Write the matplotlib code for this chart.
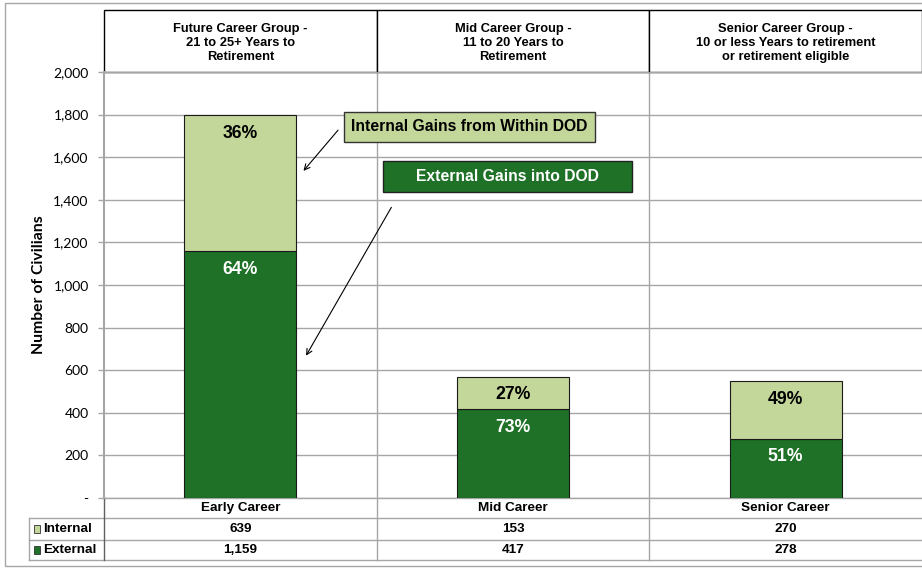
import matplotlib
matplotlib.use('Agg')
import matplotlib.pyplot as plt
import matplotlib.patches as patches
from matplotlib.transforms import blended_transform_factory
from matplotlib.ticker import FuncFormatter

plt.rcParams['font.family'] = ['Liberation Sans', 'DejaVu Sans']

# datos
categorias = ['Early Career', 'Mid Career', 'Senior Career']
encabezados = ['Future Career Group -\n21 to 25+ Years to\nRetirement',
               'Mid Career Group -\n11 to 20 Years to\nRetirement',
               'Senior Career Group -\n10 or less Years to retirement\nor retirement eligible']
interno = [639, 153, 270]
externo = [1159, 417, 278]
series = ['Internal', 'External']

verde_claro = '#C4D79B'
verde_osc = '#1E7126'
gris = '#A6A6A6'

fig = plt.figure(figsize=(9.22, 5.72), dpi=100)
ax = fig.add_axes([104 / 922, 1 - 498 / 572, 818 / 922, 426 / 572])

x = list(range(len(categorias)))
ancho = 0.41
ax.bar(x, externo, ancho, color=verde_osc, edgecolor='#1a1a1a', linewidth=0.8, zorder=3)
ax.bar(x, interno, ancho, bottom=externo, color=verde_claro, edgecolor='#1a1a1a',
       linewidth=0.8, zorder=3)

# porcentajes
for i in x:
    tot = interno[i] + externo[i]
    p_int = round(100 * interno[i] / tot)
    ax.annotate('%d%%' % p_int, (i, tot), xytext=(0, -13), textcoords='offset points',
                ha='center', va='center', fontsize=12.7, fontweight='bold', color='black', zorder=4)
    ax.annotate('%d%%' % (100 - p_int), (i, externo[i]), xytext=(0, -13),
                textcoords='offset points', ha='center', va='center', fontsize=12.7,
                fontweight='bold', color='white', zorder=4)

ax.set_xlim(-0.5, 2.5)
ax.set_ylim(0, 2000)
ax.set_yticks(range(0, 2001, 200))
ax.yaxis.set_major_formatter(FuncFormatter(lambda v, p: '-' if v == 0 else '{:,.0f}'.format(v)))
ax.tick_params(axis='y', length=4, pad=7, labelsize=10, color=gris, width=1)
for lbl in ax.get_yticklabels():
    lbl.set_family(['Lato', 'DejaVu Sans'])
ax.set_xticks([])
ax.grid(axis='y', color=gris, linewidth=1, zorder=0)
for s in ['top', 'right', 'bottom']:
    ax.spines[s].set_visible(False)
ax.spines['left'].set_color(gris)
ax.spines['left'].set_linewidth(1.5)
ax.set_ylabel('Number of Civilians', fontsize=11.3, fontweight='bold', family=['Lato', 'DejaVu Sans'])
ax.yaxis.set_label_coords(-0.071, 0.5)

tr = blended_transform_factory(ax.transData, ax.transAxes)

# lineas verticales entre grupos
for xv in [0.5, 1.5]:
    ax.plot([xv, xv], [-0.1455, 1.0], color=gris, lw=1, transform=tr, clip_on=False, zorder=1)

# encabezados
for i, t in enumerate(encabezados):
    ax.add_patch(patches.Rectangle((i - 0.5, 1.0), 1, 0.1455, transform=tr, clip_on=False,
                                   facecolor='white', edgecolor='black', lw=1))
    ax.text(i, 1.068, t, transform=tr, ha='center', va='center',
            fontsize=9.3, fontweight='bold', linespacing=1.2)

# tabla de datos
filas = [0.0, -0.047, -0.0986, -0.1455]
ax.plot([-0.5, 2.5], [0, 0], color=gris, lw=1, transform=tr, clip_on=False)
for yv in filas[1:]:
    ax.plot([-0.775, 2.5], [yv, yv], color=gris, lw=1, transform=tr, clip_on=False)
ax.plot([-0.775, -0.775], [-0.047, -0.1455], color=gris, lw=1, transform=tr, clip_on=False)
ax.plot([-0.5, -0.5], [0, -0.1455], color='#606060', lw=1, transform=tr, clip_on=False)

for i, c in enumerate(categorias):
    ax.text(i, (filas[0] + filas[1]) / 2, c, transform=tr, ha='center', va='center',
            fontsize=9.7, fontweight='bold')
    ax.text(i, (filas[1] + filas[2]) / 2, '{:,}'.format(interno[i]), transform=tr,
            ha='center', va='center', fontsize=9.7, fontweight='bold')
    ax.text(i, (filas[2] + filas[3]) / 2, '{:,}'.format(externo[i]), transform=tr,
            ha='center', va='center', fontsize=9.7, fontweight='bold')

for j, (nom, col) in enumerate(zip(series, [verde_claro, verde_osc])):
    yc = (filas[j + 1] + filas[j + 2]) / 2
    ax.add_patch(patches.Rectangle((-0.757, yc - 0.009), 0.022, 0.018, transform=tr,
                                   clip_on=False, facecolor=col, edgecolor='#333333', lw=0.6))
    ax.text(-0.725, yc, nom, transform=tr, ha='left', va='center', fontsize=9.7, fontweight='bold')

# cajas de anotacion
ax.add_patch(patches.Rectangle((0.379, 1672), 0.923, 140, facecolor=verde_claro,
                               edgecolor='#333333', lw=1, zorder=5, clip_on=False))
ax.text(0.84, 1742, 'Internal Gains from Within DOD', ha='center', va='center',
        fontsize=11.3, fontweight='bold', color='black', zorder=6)
ax.add_patch(patches.Rectangle((0.522, 1437), 0.916, 145, facecolor=verde_osc,
                               edgecolor='#222222', lw=1, zorder=5, clip_on=False))
ax.text(0.98, 1509, 'External Gains into DOD', ha='center', va='center',
        fontsize=11.3, fontweight='bold', color='white', zorder=6)

ax.annotate('', xy=(0.225, 1526), xytext=(0.365, 1737),
            arrowprops=dict(arrowstyle='->', color='black', lw=0.8), zorder=6)
ax.annotate('', xy=(0.236, 657), xytext=(0.559, 1376),
            arrowprops=dict(arrowstyle='->', color='black', lw=0.8), zorder=6)

# marco exterior
fig.patches.append(patches.Rectangle((5 / 922, 1 - 566 / 572), 1.0, 563 / 572,
                                     transform=fig.transFigure, fill=False,
                                     edgecolor=gris, lw=1))

fig.savefig('out.png', dpi=100)
